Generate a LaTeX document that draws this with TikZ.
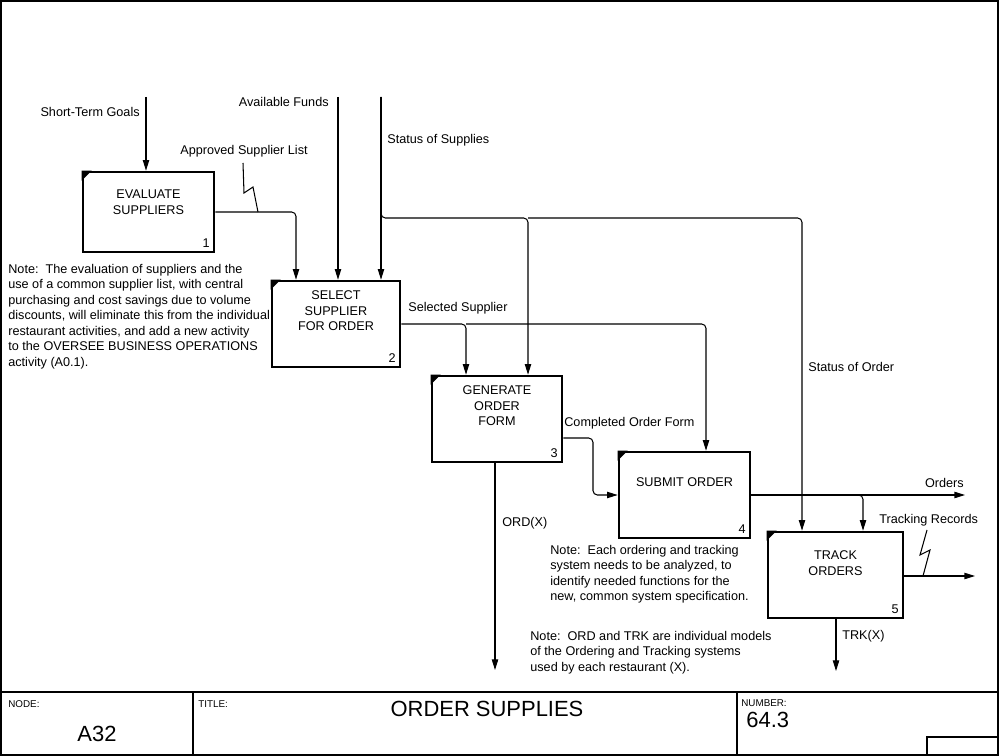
\documentclass[tikz,border=0pt]{standalone}
\usepackage{fontspec}
\setmainfont{Liberation Sans}
\usetikzlibrary{arrows.meta,calc,positioning}

\begin{document}
\begin{tikzpicture}[x=0.02cm,y=-0.02cm,>={Triangle[length=6pt,width=3.6pt]},
    every node/.style={font=\fontsize{7.2}{8.8}\selectfont,inner sep=0pt},
    flow/.style={line width=0.6pt,rounded corners=2.5pt},
    squig/.style={line width=0.6pt},
    actbox/.style={draw,line width=1.5pt,minimum width=2.62cm,minimum height=1.72cm},
    acttext/.style={align=center},
    actnum/.style={anchor=south east,inner sep=3pt},
    note/.style={align=left,anchor=north west},
    frame/.style={line width=0.6pt},
    small/.style={font=\fontsize{5.6}{6.5}\selectfont,anchor=base west},
    big/.style={font=\fontsize{12.5}{14}\selectfont}]
    \useasboundingbox (0,0) rectangle (1000,756);

    % Rahmen und Schriftfeld
    \draw[frame] (1,1) rectangle (998,755);
    \draw[frame,line width=0.8pt] (1,692) -- (998,692);
    \draw[frame,line width=0.8pt] (193,692) -- (193,755);
    \draw[frame,line width=0.8pt] (737,692) -- (737,755);
    \draw[frame,line width=0.8pt] (927,737) rectangle (998,755);
    \node[small] (nodelbl) at (8,707) {NODE:};
    \node[small] (titlelbl) at (198,707) {TITLE:};
    \node[small] (numlbl) at (741,706) {NUMBER:};
    \node[big,anchor=base] (nodeval) at (97,741) {A32};
    \node[big,anchor=base] (titleval) at (487,716) {ORDER SUPPLIES};
    \node[big,anchor=base west] (numval) at (746,727) {64.3};

    % Aktivitaeten
    \node[actbox,minimum height=1.6cm] (b1) at (148.5,212) {};
    \node[actbox,minimum width=2.56cm] (b2) at (336,324) {};
    \node[actbox,minimum width=2.6cm] (b3) at (497,419) {};
    \node[actbox] (b4) at (684.5,495) {};
    \node[actbox,minimum width=2.7cm] (b5) at (835.5,575) {};
    \foreach \b in {b1,b2,b3,b4,b5}
        \fill (\b.north west) -- ++(10,0) -- ++(-10,10) -- cycle;

    \node[acttext] (b1t) at ($(b1.center)+(0,-10)$) {EVALUATE\\SUPPLIERS};
    \node[acttext] (b2t) at ($(b2.center)+(0,-13)$) {SELECT\\SUPPLIER\\FOR ORDER};
    \node[acttext] (b3t) at ($(b3.center)+(0,-13)$) {GENERATE\\ORDER\\FORM};
    \node[acttext] (b4t) at ($(b4.center)+(0,-13)$) {SUBMIT ORDER};
    \node[acttext] (b5t) at ($(b5.center)+(0,-12)$) {TRACK\\ORDERS};
    \node[actnum] (b1n) at (b1.south east) {1};
    \node[actnum] (b2n) at (b2.south east) {2};
    \node[actnum] (b3n) at (b3.south east) {3};
    \node[actnum] (b4n) at (b4.south east) {4};
    \node[actnum] (b5n) at (b5.south east) {5};

    % Eingaenge von oben
    \coordinate (stg) at (146,97);
    \coordinate (fund) at (338,97);
    \coordinate (sup) at (381,97);
    \coordinate (sts) at (528,218);
    \coordinate (sto) at (802,218);
    \draw[flow,->] (stg) -- (stg |- b1.north);
    \draw[flow,->] (fund) -- (fund |- b2.north);
    \draw[flow,->] (sup) -- (sup |- b2.north);
    \draw[flow,->] (sup) |- (sts) -- (sts |- b3.north);
    \draw[flow,->] (sts) -- (sto) -- (sto |- b5.north);
    \node[anchor=base east] (stgl) at (140,117) {Short-Term Goals};
    \node[anchor=base east] (fundl) at (329,107) {Available Funds};
    \node[anchor=base west] (supl) at (387,144) {Status of Supplies};
    \node[anchor=base west] (stol) at (808,372) {Status of Order};

    % Approved Supplier List
    \coordinate (asl) at (296,0);
    \draw[flow,->] (b1.east) -| (asl |- b2.north);
    \draw[squig] (243,163) -- (244,193) -- (253,187) -- (258,212);
    \node[anchor=base west] (asll) at (180,155) {Approved Supplier List};

    % Selected Supplier
    \coordinate (ss1) at (466,324);
    \coordinate (ss2) at (706,324);
    \draw[flow,->] (b2.east) -| (ss1 |- b3.north);
    \draw[flow,->] (ss1) -| (ss2 |- b4.north);
    \node[anchor=base west] (ssl) at (408,312) {Selected Supplier};

    % Completed Order Form
    \coordinate (cof) at (593,470);
    \draw[flow,->] (b3.east |- 0,438) -| (cof) |- (b4.west);
    \node[anchor=base west] (cofl) at (564,427) {Completed Order Form};

    % Orders
    \coordinate (ord) at (965,495);
    \coordinate (obr) at (863,495);
    \draw[flow,->] (b4.east) -- (ord);
    \draw[flow,->] (b4.east) -| (obr |- b5.north);
    \node[anchor=base east] (ordl) at (964,487) {Orders};

    % Tracking Records
    \coordinate (trk) at (975,576);
    \draw[flow,->] (b5.east |- trk) -- (trk);
    \draw[squig] (927,530) -- (920,555) -- (930,550) -- (923,576);
    \node[anchor=base west] (trkl) at (879,523) {Tracking Records};

    % Mechanismen nach unten
    \coordinate (ordx) at (495,670);
    \coordinate (trkx) at (836,671);
    \draw[flow,->] (ordx |- b3.south) -- (ordx);
    \draw[flow,->] (trkx |- b5.south) -- (trkx);
    \node[anchor=base west] (ordxl) at (502,526) {ORD(X)};
    \node[anchor=base west] (trkxl) at (842,639) {TRK(X)};

    % Anmerkungen
    \node[note] (note1) at (8,264) {Note:\ \ The evaluation of suppliers and the\\
        use of a common supplier list, with central\\
        purchasing and cost savings due to volume\\
        discounts, will eliminate this from the individual\\
        restaurant activities, and add a new activity\\
        to the OVERSEE BUSINESS OPERATIONS\\
        activity (A0.1).};
    \node[note] (note2) at (550,545) {Note:\ \ Each ordering and tracking\\
        system needs to be analyzed, to\\
        identify needed functions for the\\
        new, common system specification.};
    \node[note] (note3) at (530,631) {Note:\ \ ORD and TRK are individual models\\
        of the Ordering and Tracking systems\\
        used by each restaurant (X).};
\end{tikzpicture}
\end{document}
